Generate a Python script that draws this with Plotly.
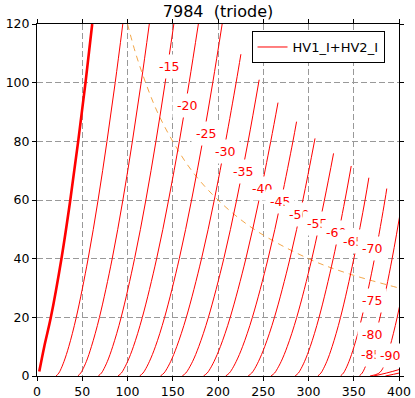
import plotly.graph_objects as go

title_text = "7984\u00a0 (triode)"
series_name = "HV1_I+HV2_I"

grid_voltages = [0, -5, -10, -15, -20, -25, -30, -35, -40, -45,
                 -50, -55, -60, -65, -70, -75, -80, -85, -90]

# plate voltage (V) and plate current (mA) read per grid-voltage curve
plate_voltage = [
    [2.5, 8.0, 15.3, 27.0, 36.8, 45.5, 53.6, 61.0],
    [21.1, 24.1, 25.9, 29.9, 35.1, 43.4, 56.5, 67.5, 77.3, 86.4, 94.8],
    [45.1, 48.3, 50.2, 54.6, 60.1, 69.0, 83.1, 94.9, 105.4, 115.1, 124.1],
    [67.7, 71.2, 73.2, 77.8, 83.6, 93.0, 107.8, 120.3, 131.4, 141.6, 151.2],
    [89.5, 93.2, 95.3, 100.2, 106.5, 116.4, 132.2, 145.4, 157.3, 168.1, 178.3],
    [113.4, 117.1, 119.3, 124.3, 130.8, 141.0, 157.2, 170.8, 183.0, 194.2, 204.6],
    [136.4, 140.3, 142.6, 147.8, 154.4, 165.0, 181.8, 195.9, 208.4, 220.0, 225.3],
    [160.5, 164.4, 166.7, 172.0, 178.7, 189.4, 206.4, 220.6, 233.3, 245.5],
    [184.0, 188.0, 190.4, 195.7, 202.6, 213.5, 230.8, 245.3, 258.3, 266.3],
    [208.5, 212.5, 214.9, 220.2, 227.1, 238.0, 255.3, 269.8, 282.8, 286.8],
    [233.3, 237.2, 239.6, 244.8, 251.6, 262.4, 279.5, 293.8, 307.2],
    [258.6, 262.5, 264.7, 269.9, 276.5, 287.0, 303.7, 317.6, 327.7],
    [285.2, 288.8, 290.9, 295.7, 301.9, 311.7, 327.3, 340.3, 347.2],
    [310.3, 313.7, 315.7, 320.3, 326.1, 335.4, 350.1, 362.5, 366.7],
    [335.4, 338.6, 340.5, 344.8, 350.3, 359.0, 372.9, 384.5, 386.5],
    [356.2, 359.3, 361.1, 365.2, 370.5, 379.0, 392.4, 403.7],
    [368.0, 377.0, 381.0, 385.0, 390.0, 398.0, 411.0],
    [372.0, 386.0, 400.0, 412.0],
    [385.0, 400.0, 415.0],
]
plate_current = [
    [1.5, 10, 20, 40, 60, 80, 100, 120],
    [0, 1, 2, 5, 10, 20, 40, 60, 80, 100, 120],
    [0, 1, 2, 5, 10, 20, 40, 60, 80, 100, 120],
    [0, 1, 2, 5, 10, 20, 40, 60, 80, 100, 120],
    [0, 1, 2, 5, 10, 20, 40, 60, 80, 100, 120],
    [0, 1, 2, 5, 10, 20, 40, 60, 80, 100, 120],
    [0, 1, 2, 5, 10, 20, 40, 60, 80, 100, 109.7],
    [0, 1, 2, 5, 10, 20, 40, 60, 80, 101],
    [0, 1, 2, 5, 10, 20, 40, 60, 80, 93.2],
    [0, 1, 2, 5, 10, 20, 40, 60, 80, 86.7],
    [0, 1, 2, 5, 10, 20, 40, 60, 81],
    [0, 1, 2, 5, 10, 20, 40, 60, 75.9],
    [0, 1, 2, 5, 10, 20, 40, 60, 71.6],
    [0, 1, 2, 5, 10, 20, 40, 60, 67.6],
    [0, 1, 2, 5, 10, 20, 40, 60, 63.9],
    [0, 1, 2, 5, 10, 20, 40, 60],
    [0, 0.8, 2, 5, 10, 20, 40],
    [0, 1.0, 2.2, 3.5],
    [0, 1.0, 2.2],
]

# max dissipation curve
pd_voltage = [100, 109, 120, 133, 150, 171, 200, 240, 300, 343, 400]
pd_current = [120, 110, 100, 90, 80, 70, 60, 50, 40, 35, 30]

# inline curve labels
label_text = ["-15", "-20", "-25", "-30", "-35", "-40", "-45", "-50",
              "-55", "-60", "-65", "-70", "-75", "-80", "-85", "-90"]
label_v = [146.2, 166.1, 186.7, 207.2, 227.3, 248.3, 268.5, 289.5,
           309.4, 330.4, 349.2, 369.8, 369.8, 369.8, 369.5, 390.0]
label_i = [105.5, 92.1, 82.7, 76.6, 69.7, 64.0, 59.4, 55.2,
           52.1, 48.9, 45.8, 43.5, 25.9, 14.3, 7.2, 6.9]

x_ticks = [0, 50, 100, 150, 200, 250, 300, 350, 400]
y_ticks = [0, 20, 40, 60, 80, 100, 120]

FONT = "DejaVu Sans"

fig = go.Figure()

fig.add_trace(go.Scatter(
    x=pd_voltage, y=pd_current, mode="lines", line_shape="spline",
    line=dict(color="rgba(240,150,40,0.85)", width=1, dash="6px,5px"),
    showlegend=False, hoverinfo="skip"))

for k, vg in enumerate(grid_voltages):
    fig.add_trace(go.Scatter(
        x=plate_voltage[k], y=plate_current[k], mode="lines",
        line_shape="spline",
        line=dict(color="#ff0000", width=2.6 if vg == 0 else 1),
        name=series_name, legendgroup="hv",
        showlegend=(k == 1)))

for t, xv, yv in zip(label_text, label_v, label_i):
    fig.add_annotation(x=xv, y=yv, text=t, showarrow=False,
                       xanchor="center", yanchor="middle",
                       font=dict(family=FONT, size=12.5, color="#ff0000"),
                       bgcolor="white", borderpad=4)

axis_common = dict(showline=True, linecolor="black", linewidth=1, mirror="ticks",
                   ticks="outside", ticklen=4, tickcolor="black",
                   showgrid=True, gridcolor="#999999", gridwidth=1,
                   griddash="6px,3px", zeroline=False, automargin=False,
                   tickfont=dict(family=FONT, size=12.5, color="black"))

fig.update_xaxes(range=[0, 400], tickvals=x_ticks, **axis_common)
fig.update_yaxes(range=[0, 120], tickvals=y_ticks, **axis_common)

W, H = 415, 398
fig.update_layout(
    width=W, height=H,
    margin=dict(l=37, r=16, t=24, b=22, autoexpand=False),
    paper_bgcolor="white", plot_bgcolor="white",
    title=dict(text=title_text, x=0.5, xref="paper",
               y=1 - 11 / H,
               yref="container", yanchor="middle", automargin=False,
               font=dict(family=FONT, size=16, color="black")),
    legend=dict(x=0.96, y=0.98, xanchor="right", yanchor="top",
                bgcolor="white", bordercolor="black", borderwidth=1,
                tracegroupgap=0,
                font=dict(family=FONT, size=13, color="black")),
    font=dict(family=FONT),
)

# remove the default page margin so the figure sits at the window origin
fig.write_html("out.html",
               config={"displayModeBar": False},
               post_script="document.body.style.margin='0';document.body.style.overflow='hidden';")
